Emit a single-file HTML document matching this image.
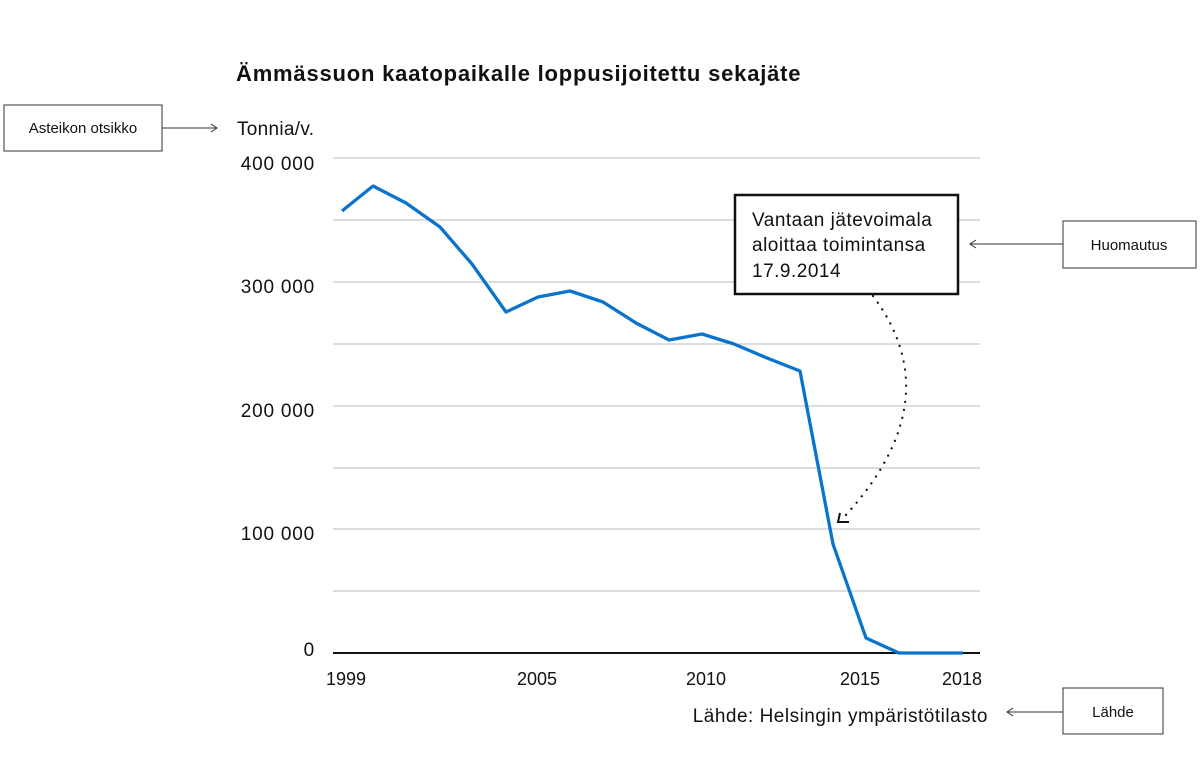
<!DOCTYPE html>
<html><head><meta charset="utf-8"><style>
body{margin:0;background:#fff;width:1200px;height:758px;overflow:hidden}
svg{display:block}
text{font-family:"Liberation Sans",sans-serif;fill:#111}
</style></head><body>
<svg width="1200" height="758" viewBox="0 0 1200 758">
<text x="236" y="81" font-size="22" font-weight="bold" letter-spacing="0.8">Ämmässuon kaatopaikalle loppusijoitettu sekajäte</text>
<text x="237" y="135" font-size="19" letter-spacing="0.3">Tonnia/v.</text>
<g stroke="#bbb" stroke-width="1">
<line x1="333" y1="158" x2="980" y2="158"/>
<line x1="333" y1="220" x2="980" y2="220"/>
<line x1="333" y1="282" x2="980" y2="282"/>
<line x1="333" y1="344" x2="980" y2="344"/>
<line x1="333" y1="406" x2="980" y2="406"/>
<line x1="333" y1="468" x2="980" y2="468"/>
<line x1="333" y1="529" x2="980" y2="529"/>
<line x1="333" y1="591" x2="980" y2="591"/>
</g>
<line x1="333" y1="653" x2="980" y2="653" stroke="#111" stroke-width="2"/>
<g font-size="19" letter-spacing="0.8" text-anchor="end">
<text x="315" y="170">400 000</text>
<text x="315" y="293">300 000</text>
<text x="315" y="417">200 000</text>
<text x="315" y="540">100 000</text>
<text x="315" y="656">0</text>
</g>
<g font-size="18" text-anchor="middle">
<text x="346" y="685">1999</text>
<text x="537" y="685">2005</text>
<text x="706" y="685">2010</text>
<text x="860" y="685">2015</text>
<text x="962" y="685">2018</text>
</g>
<text x="988" y="722" font-size="19" letter-spacing="0.5" text-anchor="end">Lähde: Helsingin ympäristötilasto</text>
<polyline fill="none" stroke="#0a74cc" stroke-width="3.3" stroke-linejoin="round" points="342,211 373,186 406,203 440,227 472,264 506,312 538,297 570,291 603,302 636,323 669,340 702,334 734,344 767,358 800,371 833,544 866,638 899,653 932,653 963,653"/>
<rect x="735" y="195" width="223" height="99" fill="#fff" stroke="#111" stroke-width="2.5"/>
<g font-size="19" letter-spacing="0.5">
<text x="752" y="226">Vantaan jätevoimala</text>
<text x="752" y="251">aloittaa toimintansa</text>
<text x="752" y="277">17.9.2014</text>
</g>
<path d="M873,296 Q951,400 845,516" fill="none" stroke="#111" stroke-width="2.2" stroke-dasharray="0.1,8" stroke-linecap="round"/>
<path d="M840,513 L838,522 L849,522" fill="none" stroke="#111" stroke-width="2"/>
<rect x="4" y="105" width="158" height="46" fill="#fff" stroke="#333" stroke-width="1"/>
<text x="83" y="133" font-size="15" text-anchor="middle">Asteikon otsikko</text>
<line x1="162" y1="128" x2="217" y2="128" stroke="#333"/>
<path d="M211,124 L217,128 L211,132" fill="none" stroke="#333"/>
<rect x="1063" y="221" width="133" height="47" fill="#fff" stroke="#333"/>
<text x="1129" y="250" font-size="15" text-anchor="middle">Huomautus</text>
<line x1="970" y1="244" x2="1063" y2="244" stroke="#333"/>
<path d="M976,240 L970,244 L976,248" fill="none" stroke="#333"/>
<rect x="1063" y="688" width="100" height="46" fill="#fff" stroke="#333"/>
<text x="1113" y="717" font-size="15" text-anchor="middle">Lähde</text>
<line x1="1007" y1="712" x2="1063" y2="712" stroke="#333"/>
<path d="M1013,708 L1007,712 L1013,716" fill="none" stroke="#333"/>
</svg>
</body></html>
